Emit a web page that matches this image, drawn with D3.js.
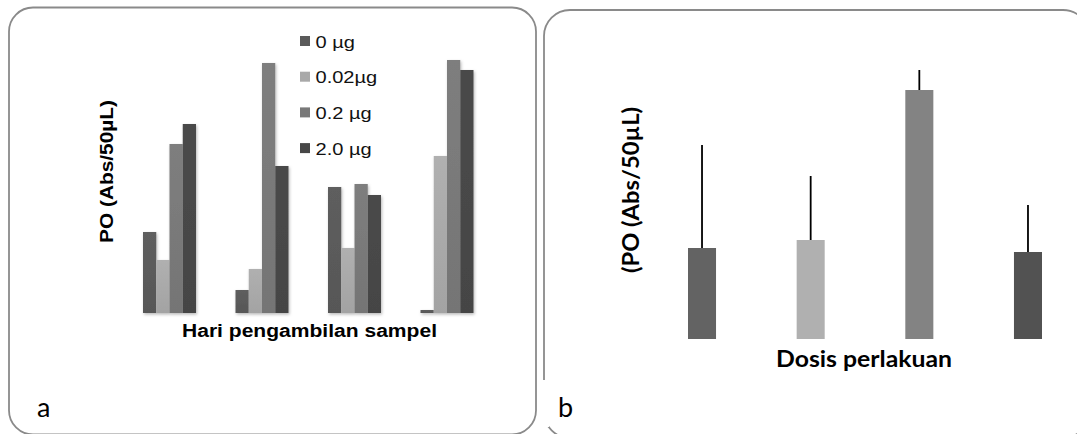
<!DOCTYPE html>
<html>
<head>
<meta charset="utf-8">
<script src="https://cdn.jsdelivr.net/npm/d3@7"></script>
<style>
  body { margin: 0; background: #fff; }
  svg { display: block; }
</style>
</head>
<body>
<svg id="chart" width="1077" height="434"></svg>
<script>
// panel a: PO per sampling day, 4 doses
const days  = ["1", "2", "3", "4"];
const doses = ["0 µg", "0.02µg", "0.2 µg", "2.0 µg"];
const poByDay = [
  [0.081, 0.053, 0.169, 0.189],
  [0.023, 0.044, 0.250, 0.147],
  [0.126, 0.065, 0.129, 0.118],
  [0.003, 0.157, 0.253, 0.243]
];
// panel b: mean PO per dose with error
const poMean = [0.091, 0.099, 0.249, 0.087];
const poErr  = [0.103, 0.064, 0.020, 0.047];

const colA = ["#5a5a5a", "#a9a9a9", "#797979", "#474747"];
const colB = ["#636363", "#b0b0b0", "#838383", "#525252"];

const svg = d3.select('#chart');
const defs = svg.append('defs');
const sans = 'Liberation Sans, Arial, sans-serif';
const cal  = 'Lato, sans-serif';

// soft shadow under bars in panel a
const f = defs.append('filter').attr('id', 'shadow')
  .attr('x', '-30%').attr('y', '-10%').attr('width', '160%').attr('height', '120%');
f.append('feDropShadow').attr('dx', 1).attr('dy', 1.5)
  .attr('stdDeviation', 1.8).attr('flood-color', '#000').attr('flood-opacity', 0.28);

colA.forEach((c, i) => {
  const g = defs.append('linearGradient').attr('id', 'grad' + i)
    .attr('x1', 0).attr('y1', 0).attr('x2', 0).attr('y2', 1);
  g.append('stop').attr('offset', '0%').attr('stop-color', d3.color(c).brighter(0.12));
  g.append('stop').attr('offset', '100%').attr('stop-color', d3.color(c).darker(0.1));
});

// panel frames
svg.append('rect')
  .attr('x', 9).attr('y', 7.5).attr('width', 527).attr('height', 427)
  .attr('rx', 24).attr('fill', 'none').attr('stroke', '#8a8a8a').attr('stroke-width', 1.8);
svg.append('rect')
  .attr('x', 544).attr('y', 10).attr('width', 545).attr('height', 428)
  .attr('rx', 26).attr('fill', 'none').attr('stroke', '#8a8a8a').attr('stroke-width', 1.8);
svg.append('rect') // break in the left edge of panel b
  .attr('x', 540).attr('y', 380).attr('width', 9).attr('height', 47).attr('fill', '#fff');

// ---------- panel a ----------
const xDay = d3.scaleBand().domain(days).range([143, 473.5]).paddingInner(0.427).paddingOuter(0);
const xDose = d3.scaleBand().domain(doses).range([0, xDay.bandwidth()]);
const yA = d3.scaleLinear().domain([0, 0.25]).range([313, 63]);

const gA = svg.append('g');
const grp = gA.selectAll('g.day').data(poByDay).enter().append('g')
  .attr('class', 'day')
  .attr('transform', (d, i) => `translate(${xDay(days[i])},0)`)
  .attr('filter', 'url(#shadow)');
grp.selectAll('rect').data(d => d).enter().append('rect')
  .attr('x', (d, i) => xDose(doses[i]))
  .attr('y', d => yA(d))
  .attr('width', xDose.bandwidth())
  .attr('height', d => yA(0) - yA(d))
  .attr('fill', (d, i) => `url(#grad${i})`);

// legend
const leg = gA.selectAll('g.leg').data(doses).enter().append('g')
  .attr('class', 'leg')
  .attr('transform', (d, i) => `translate(300,${41 + i * 35.7})`);
leg.append('rect').attr('x', 0).attr('y', -5).attr('width', 10).attr('height', 10)
  .attr('fill', (d, i) => colA[i]);
leg.append('text')
  .attr('transform', 'translate(15.5,6.5) scale(1.18,1)')
  .style('font-family', sans).style('font-size', '17px')
  .attr('fill', '#111').text(d => d);

gA.append('text')
  .attr('transform', 'translate(113,171.5) rotate(-90)')
  .attr('text-anchor', 'middle')
  .attr('textLength', 143).attr('lengthAdjust', 'spacingAndGlyphs')
  .style('font-family', sans).style('font-size', '18px')
  .style('font-weight', 'bold').text('PO (Abs/50µL)');
gA.append('text')
  .attr('x', 309.5).attr('y', 337).attr('text-anchor', 'middle')
  .attr('textLength', 255).attr('lengthAdjust', 'spacingAndGlyphs')
  .style('font-family', sans).style('font-size', '18px')
  .style('font-weight', 'bold').text('Hari pengambilan sampel');
gA.append('text')
  .attr('x', 37).attr('y', 417)
  .style('font-family', cal).style('font-size', '27px').text('a');

// ---------- panel b ----------
const xB = d3.scaleBand().domain(doses).range([688, 1042]).paddingInner(0.742).paddingOuter(0);
const yB = d3.scaleLinear().domain([0, 0.25]).range([339, 89]);
const gB = svg.append('g');

gB.selectAll('line.err').data(poMean).enter().append('line')
  .attr('class', 'err')
  .attr('x1', (d, i) => xB(doses[i]) + xB.bandwidth() / 2)
  .attr('x2', (d, i) => xB(doses[i]) + xB.bandwidth() / 2)
  .attr('y1', d => yB(d))
  .attr('y2', (d, i) => yB(d + poErr[i]))
  .attr('stroke', '#000').attr('stroke-width', 1.8);

gB.selectAll('rect').data(poMean).enter().append('rect')
  .attr('x', (d, i) => xB(doses[i]))
  .attr('y', d => yB(d))
  .attr('width', xB.bandwidth())
  .attr('height', d => yB(0) - yB(d))
  .attr('fill', (d, i) => colB[i]);

gB.append('text')
  .attr('transform', 'translate(639,190) rotate(-90)')
  .attr('text-anchor', 'middle')
  .attr('textLength', 166).attr('lengthAdjust', 'spacingAndGlyphs')
  .style('font-family', cal).style('font-size', '23px')
  .style('font-weight', 'bold').text('(PO (Abs/50µL)');
gB.append('text')
  .attr('x', 864).attr('y', 367).attr('text-anchor', 'middle')
  .attr('textLength', 176).attr('lengthAdjust', 'spacingAndGlyphs')
  .style('font-family', cal).style('font-size', '22px')
  .style('font-weight', 'bold').text('Dosis perlakuan');
gB.append('text')
  .attr('x', 558).attr('y', 417)
  .style('font-family', cal).style('font-size', '27px').text('b');
</script>
</body>
</html>
